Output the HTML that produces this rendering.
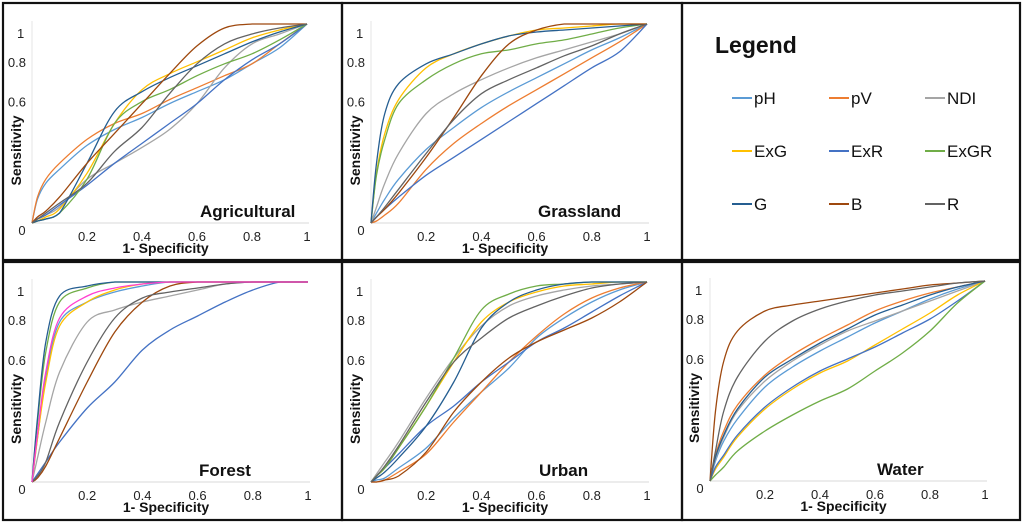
<!DOCTYPE html>
<html><head><meta charset="utf-8">
<style>
html,body{margin:0;padding:0;background:#fff;}
svg{display:block;font-family:"Liberation Sans",Arial,sans-serif;}
</style></head>
<body>
<svg id="fig" width="1024" height="525" viewBox="0 0 1024 525">
</svg>
<script>
const NS="http://www.w3.org/2000/svg";
const xGrid=[0,0.02,0.05,0.1,0.2,0.3,0.4,0.5,0.6,0.7,0.8,0.9,1];
const seriesNames=["pH","pV","NDI","ExG","ExR","ExGR","G","B","R","pink"];
const seriesColors={pH:"#5b9bd5",pV:"#ed7d31",NDI:"#a5a5a5",ExG:"#ffc000",ExR:"#4472c4",ExGR:"#70ad47",G:"#255e91",B:"#9e480e",R:"#636363",pink:"#ff3fd0"};
const xTicks=[0.2,0.4,0.6,0.8,1];
const yTicks=[0.6,0.8,1];
const panelTitles=["Agricultural","Grassland","Forest","Urban","Water"];

const agricultural={
pH:[0,0.12,0.2,0.27,0.39,0.47,0.53,0.6,0.66,0.72,0.8,0.88,1],
pV:[0,0.13,0.22,0.3,0.42,0.5,0.55,0.62,0.68,0.74,0.8,0.9,1],
NDI:[0,0.02,0.04,0.08,0.22,0.3,0.38,0.47,0.6,0.78,0.9,0.95,1],
ExG:[0,0.01,0.03,0.07,0.25,0.5,0.67,0.75,0.81,0.87,0.93,0.97,1],
ExR:[0,0.02,0.04,0.09,0.19,0.3,0.4,0.5,0.6,0.72,0.82,0.9,1],
ExGR:[0,0.01,0.02,0.05,0.22,0.5,0.61,0.67,0.74,0.8,0.85,0.92,1],
G:[0,0.01,0.02,0.05,0.3,0.56,0.66,0.73,0.79,0.85,0.91,0.96,1],
B:[0,0.03,0.06,0.13,0.3,0.45,0.6,0.75,0.89,0.98,1,1,1],
R:[0,0.02,0.05,0.1,0.2,0.36,0.48,0.65,0.8,0.9,0.95,0.98,1]};
const grassland={
pH:[0,0.05,0.12,0.22,0.37,0.48,0.58,0.66,0.73,0.8,0.87,0.93,1],
pV:[0,0.01,0.04,0.1,0.27,0.4,0.5,0.59,0.67,0.75,0.83,0.91,1],
NDI:[0,0.08,0.2,0.35,0.55,0.65,0.72,0.78,0.83,0.87,0.91,0.95,1],
ExG:[0,0.25,0.45,0.62,0.78,0.85,0.9,0.94,0.97,0.98,0.99,1,1],
ExR:[0,0.03,0.07,0.13,0.24,0.33,0.42,0.51,0.6,0.69,0.78,0.86,1],
ExGR:[0,0.24,0.42,0.6,0.72,0.8,0.85,0.87,0.9,0.92,0.95,0.98,1],
G:[0,0.3,0.55,0.7,0.8,0.85,0.9,0.94,0.96,0.97,0.98,0.99,1],
B:[0,0.03,0.07,0.15,0.33,0.53,0.74,0.9,0.97,1,1,1,1],
R:[0,0.03,0.08,0.17,0.35,0.52,0.65,0.72,0.78,0.84,0.89,0.95,1]};
const forest={
pH:[0,0.22,0.52,0.8,0.9,0.95,0.98,1,1,1,1,1,1],
NDI:[0,0.12,0.3,0.55,0.8,0.86,0.9,0.93,0.96,0.99,1,1,1],
ExG:[0,0.22,0.5,0.78,0.9,0.96,0.99,1,1,1,1,1,1],
ExR:[0,0.04,0.1,0.2,0.37,0.5,0.66,0.76,0.83,0.9,0.96,1,1],
ExGR:[0,0.3,0.65,0.9,0.97,1,1,1,1,1,1,1,1],
G:[0,0.32,0.7,0.93,0.98,1,1,1,1,1,1,1,1],
B:[0,0.02,0.08,0.22,0.5,0.75,0.9,0.98,1,1,1,1,1],
R:[0,0.03,0.1,0.3,0.6,0.82,0.92,0.95,0.97,0.99,1,1,1],
pink:[0,0.24,0.55,0.82,0.93,0.97,0.99,1,1,1,1,1,1]};
const urban={
pH:[0,0.01,0.02,0.07,0.17,0.32,0.45,0.57,0.72,0.82,0.9,0.96,1],
pV:[0,0.0,0.01,0.05,0.14,0.3,0.45,0.6,0.73,0.84,0.92,0.97,1],
NDI:[0,0.04,0.1,0.2,0.42,0.62,0.78,0.88,0.93,0.96,0.98,0.99,1],
ExG:[0,0.03,0.07,0.17,0.38,0.6,0.8,0.9,0.95,0.98,0.99,1,1],
ExR:[0,0.03,0.07,0.14,0.28,0.38,0.5,0.6,0.7,0.77,0.85,0.93,1],
ExGR:[0,0.03,0.07,0.17,0.38,0.62,0.86,0.94,0.98,0.99,1,1,1],
G:[0,0.02,0.05,0.12,0.28,0.5,0.77,0.9,0.96,0.99,1,1,1],
B:[0,0.0,0.01,0.03,0.15,0.35,0.5,0.62,0.7,0.76,0.82,0.9,1],
R:[0,0.03,0.08,0.18,0.4,0.6,0.72,0.82,0.88,0.93,0.97,0.99,1]};
const water={
pH:[0,0.1,0.2,0.31,0.47,0.57,0.65,0.72,0.79,0.85,0.91,0.96,1],
pV:[0,0.13,0.25,0.38,0.53,0.63,0.71,0.78,0.85,0.9,0.94,0.97,1],
NDI:[0,0.11,0.22,0.35,0.5,0.6,0.68,0.75,0.8,0.85,0.9,0.95,1],
ExG:[0,0.06,0.12,0.22,0.36,0.46,0.54,0.6,0.68,0.76,0.84,0.93,1],
ExR:[0,0.07,0.13,0.23,0.37,0.47,0.55,0.61,0.67,0.74,0.81,0.9,1],
ExGR:[0,0.03,0.07,0.15,0.25,0.33,0.4,0.46,0.55,0.64,0.75,0.89,1],
G:[0,0.12,0.23,0.36,0.52,0.61,0.69,0.76,0.83,0.88,0.93,0.97,1],
B:[0,0.35,0.6,0.75,0.85,0.88,0.9,0.92,0.94,0.96,0.98,0.99,1],
R:[0,0.15,0.35,0.52,0.7,0.8,0.86,0.9,0.93,0.95,0.97,0.99,1]};

const svg=document.getElementById('fig');
function mk(tag,attrs,parent){const e=document.createElementNS(NS,tag);for(const k in attrs)e.setAttribute(k,attrs[k]);(parent||svg).appendChild(e);return e;}

const frames=[[3,3,339,257],[342,3,340,257],[682,3,338,257],[3,262,339,258],[342,262,340,258],[682,262,338,258]];
frames.forEach((f,i)=>{
 const r=mk('rect',{x:f[0],y:f[1],width:f[2],height:f[3],fill:'none',stroke:'#111','stroke-width':2.2});
 
 
});

const panels=[
 {data:agricultural,x0:32,x1:307,y0:223,y1:24,lx:200,slug:'agricultural'},
 {data:grassland,x0:371,x1:647,y0:223,y1:24,lx:538,slug:'grassland'},
 {data:forest,x0:32,x1:308,y0:482,y1:282,lx:199,slug:'forest'},
 {data:urban,x0:371,x1:647,y0:482,y1:282,lx:539,slug:'urban'},
 {data:water,x0:710,x1:985,y0:481,y1:281,lx:877,slug:'water'}];

function smoothPath(pts){
 let d='M'+pts[0][0].toFixed(1)+','+pts[0][1].toFixed(1);
 for(let i=0;i<pts.length-1;i++){
  const p0=pts[Math.max(0,i-1)],p1=pts[i],p2=pts[i+1],p3=pts[Math.min(pts.length-1,i+2)];
  const t=1/6;
  let c1x=p1[0]+(p2[0]-p0[0])*t,c1y=p1[1]+(p2[1]-p0[1])*t;
  let c2x=p2[0]-(p3[0]-p1[0])*t,c2y=p2[1]-(p3[1]-p1[1])*t;
  const lo=Math.min(p1[1],p2[1]),hi=Math.max(p1[1],p2[1]);
  c1y=Math.min(hi,Math.max(lo,c1y));c2y=Math.min(hi,Math.max(lo,c2y));
  d+=' C'+c1x.toFixed(1)+','+c1y.toFixed(1)+' '+c2x.toFixed(1)+','+c2y.toFixed(1)+' '+p2[0].toFixed(1)+','+p2[1].toFixed(1);
 }
 return d;
}

panels.forEach((p,pi)=>{
 const g=mk('g',{});
 
 
 const sx=v=>p.x0+(p.x1-p.x0)*v, sy=v=>p.y0-(p.y0-p.y1)*v;
 const ax=mk('line',{x1:p.x0,y1:p.y0,x2:p.x1+2,y2:p.y0,stroke:'#d9d9d9','stroke-width':1},g);
 
 
 const ay=mk('line',{x1:p.x0,y1:p.y0,x2:p.x0,y2:p.y1-3,stroke:'#e6e6e6','stroke-width':1},g);
 
 
 seriesNames.forEach(n=>{
  const ys=p.data[n]; if(!ys) return;
  const pts=xGrid.map((x,i)=>[sx(x),sy(ys[i])]);
  const path=mk('path',{d:smoothPath(pts),fill:'none',stroke:seriesColors[n],'stroke-width':1.3},g);
  
  
 });
 xTicks.forEach(v=>{
  const t=mk('text',{x:sx(v),y:p.y0+18,'font-size':13,'text-anchor':'middle',fill:'#222'},g);
  t.textContent=String(v);
  
  
 });
 yTicks.forEach(v=>{
  const yy=v===1?p.y1+14:sy(v)+3;
  const t=mk('text',{x:p.x0-6,y:yy,'font-size':13,'text-anchor':'end',fill:'#222'},g);
  if(v===1){t.setAttribute('text-anchor','start');t.setAttribute('x',p.x0-15);}
  t.textContent=String(v);
  
  
 });
 const z=mk('text',{x:p.x0-10,y:p.y0+12,'font-size':13,'text-anchor':'middle',fill:'#222'},g);
 z.textContent='0';
 
 
 const xt=mk('text',{x:(p.x0+p.x1)/2-4,y:p.y0+30,'font-size':14,'font-weight':'bold','text-anchor':'middle',fill:'#111'},g);
 xt.textContent='1- Specificity';
 
 
 const cy=(p.y0+p.y1)/2+27, cx=p.x0-11;
 const yt=mk('text',{x:cx,y:cy,'font-size':14,'font-weight':'bold','text-anchor':'middle',fill:'#111',transform:'rotate(-90 '+cx+' '+cy+')'},g);
 yt.textContent='Sensitivity';
 
 
 const tt=mk('text',{x:p.lx,y:p.y0-6,'font-size':17,'font-weight':'bold',fill:'#111'},g);
 tt.textContent=panelTitles[pi];
 
 
});

const lg=mk('g',{});


const lt=mk('text',{x:715,y:53,'font-size':23,'font-weight':'bold',fill:'#111'},lg);
lt.textContent='Legend';


const legendOrder=["pH","pV","NDI","ExG","ExR","ExGR","G","B","R"];
const colX=[732,829,925], rowY=[98,151,204];
legendOrder.forEach((n,i)=>{
 const cx=colX[i%3], cy=rowY[Math.floor(i/3)];
 const e=mk('g',{},lg);
 
 
 mk('line',{x1:cx,y1:cy,x2:cx+20,y2:cy,stroke:seriesColors[n],'stroke-width':2},e);
 const t=mk('text',{x:cx+22,y:cy+6,'font-size':17,fill:'#111'},e);
 t.textContent=n;
});
</script>
</body></html>
